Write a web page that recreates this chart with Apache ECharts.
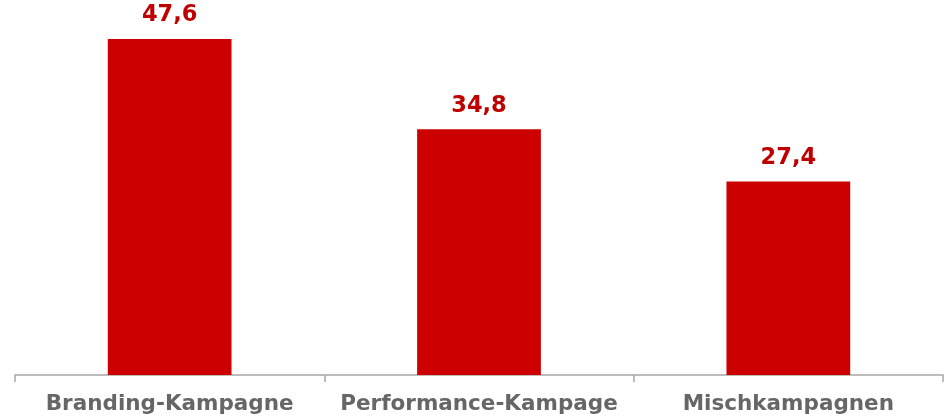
<!DOCTYPE html>
<html>
<head>
<meta charset="utf-8">
<script src="https://cdn.jsdelivr.net/npm/echarts@6/dist/echarts.min.js"></script>
<style>html,body{margin:0;padding:0;background:#fff}#c{width:946px;height:418px}</style>
</head>
<body>
<div id="c"></div>
<script>
var categories = ['Branding-Kampagne', 'Performance-Kampage', 'Mischkampagnen'];
var values = [47.6, 34.8, 27.4];

var chart = echarts.init(document.getElementById('c'), null, {renderer: 'canvas'});
chart.setOption({
  animation: false,
  grid: {left: 15, right: 3, top: 22, bottom: 43},
  xAxis: {
    type: 'category',
    data: categories,
    axisLine: {lineStyle: {color: '#a6a6a6', width: 1.5}},
    axisTick: {show: true, length: 7, lineStyle: {color: '#a6a6a6', width: 1.5}},
    axisLabel: {interval: 0, color: '#666666', fontFamily: 'DejaVu Sans, Verdana, sans-serif', fontWeight: 'bold', fontSize: 21.5, margin: 18}
  },
  yAxis: {
    type: 'value', min: 0, max: 50, show: false,
    splitLine: {show: false}
  },
  series: [{
    type: 'bar',
    data: values,
    barWidth: '40%',
    itemStyle: {color: '#CC0000'},
    label: {
      show: true, position: 'top', distance: 12,
      color: '#C00000', fontFamily: 'DejaVu Sans, Verdana, sans-serif', fontWeight: 'bold', fontSize: 22.5,
      formatter: function (p) { return String(p.value).replace('.', ','); }
    }
  }]
});
</script>
</body>
</html>
